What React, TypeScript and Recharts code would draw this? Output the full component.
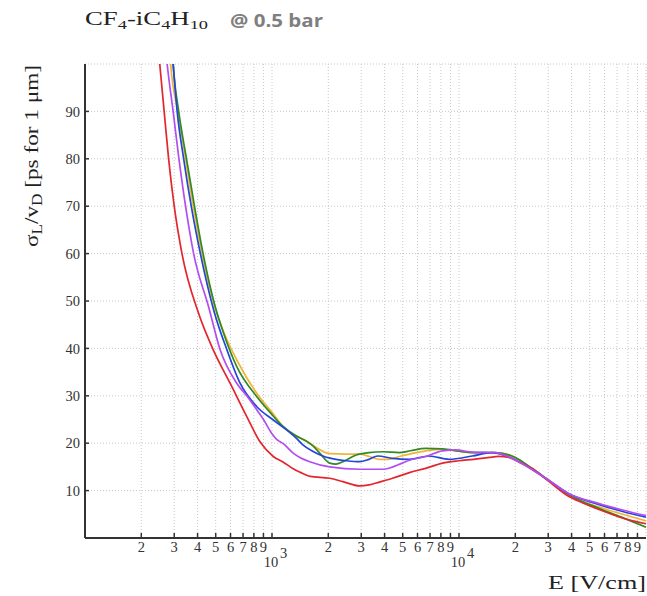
import { CartesianGrid, Line, LineChart, XAxis, YAxis } from "recharts";

const W = 647;
const H = 596;

// E [V/cm] vs sigma_L/v_D [ps for 1 um]
const red: [number, number][] = [
    [233, 112], [251, 100], [265, 90], [280, 80], [300, 70], [330, 60],
    [404, 47.5], [485, 39.7], [598, 32.6], [733, 25.6], [863, 20.3], [1016, 17.2],
    [1150, 16], [1298, 14.6], [1409, 13.9], [1600, 13], [2036, 12.6], [2395, 11.9],
    [2940, 11], [3300, 11.2], [3750, 11.8], [4410, 12.6], [5430, 13.8], [6640, 14.7],
    [8160, 15.8], [10000, 16.3], [12000, 16.6], [14500, 17], [16300, 17.2], [18500, 17],
    [21000, 16], [24500, 14.7], [30100, 12], [38500, 8.8], [46000, 7.4], [55600, 6.05],
    [70000, 4.6], [85000, 3.6], [100000, 3],
];

const purple: [number, number][] = [
    [258, 112], [275, 100], [296, 90], [318, 80], [345, 70], [381, 60], [458, 48.8],
    [528, 39.7], [649, 32.6], [750, 29.5], [830, 27], [900, 25], [1000, 22], [1059, 20.8],
    [1149, 19.9], [1298, 17.9], [1409, 17], [1592, 16.1], [2036, 15], [2940, 14.5],
    [3900, 14.5], [4980, 15.8], [5430, 16.4], [6640, 17.2], [8160, 18.4], [9600, 18.6],
    [11770, 18.1], [15650, 18], [18000, 17.3], [24500, 14.5], [30100, 12.2], [38460, 9.4],
    [55600, 7.3], [75000, 5.9], [100000, 4.7],
];

const blue: [number, number][] = [
    [280, 112], [296, 100], [311, 90], [337, 80], [370, 70], [414, 60], [490, 47.8],
    [574, 39.7], [676, 32.6], [830, 27.7], [1016, 24.9], [1197, 22.8], [1353, 21],
    [1468, 19.6], [1650, 18.3], [1900, 17.2], [2200, 16.6], [2500, 16.3], [2940, 16.1],
    [3300, 16.6], [3676, 17.3], [4410, 16.8], [5430, 16.6], [6920, 17.3], [8860, 16.6],
    [11770, 17.3], [15000, 18], [17000, 17.6], [20000, 16.5], [24500, 14.5], [30100, 12.2],
    [38460, 9.4], [55600, 7.1], [75000, 5.6], [100000, 4.4],
];

const green: [number, number][] = [
    [285, 112], [296, 100], [317, 90], [349, 80], [385, 70], [428, 60], [497, 48.8],
    [551, 43.2], [649, 36.1], [830, 29.8], [976, 26.5], [1149, 23.5], [1350, 21.5],
    [1530, 20.4], [1650, 19.5], [1800, 17.9], [2036, 15.8], [2200, 15.6], [2395, 16.1],
    [2820, 17.5], [3300, 18], [3900, 18.2], [4790, 18], [5500, 18.4], [6640, 18.9],
    [8160, 18.8], [10000, 18.3], [11770, 18], [15650, 18], [20000, 17], [24500, 14.7],
    [30100, 12.2], [38460, 9.2], [55600, 6.3], [75000, 4.3], [100000, 2.3],
];

const orange: [number, number][] = [
    [275, 112], [287, 100], [314, 90], [345, 80], [379, 70], [423, 60], [494, 48.8],
    [551, 43.5], [649, 37.5], [830, 30.5], [1000, 26.5], [1149, 23.5], [1350, 21.5],
    [1530, 20.4], [1659, 19.5], [2036, 17.8], [2490, 17.7], [2940, 17.7], [3316, 17.2],
    [3750, 16.6], [4200, 16.6], [4790, 17.2], [5430, 17.7], [6640, 18.4], [8160, 18.7],
    [11770, 18], [15650, 18], [20000, 17], [24500, 14.7], [30100, 12.2], [38460, 9],
    [55600, 6.6], [75000, 5], [100000, 3.6],
];

const xTicks = [
    200, 300, 400, 500, 600, 700, 800, 900, 1000,
    2000, 3000, 4000, 5000, 6000, 7000, 8000, 9000, 10000,
    20000, 30000, 40000, 50000, 60000, 70000, 80000, 90000,
];
const yTicks = [10, 20, 30, 40, 50, 60, 70, 80, 90];

const SERIF = "'Liberation Serif', 'DejaVu Serif', serif";
const AXIS = "#333";

const rows = (pts: [number, number][]) => pts.map(([e, v]) => ({ e, v }));

function XTick(props: any) {
    const { x, y, payload } = props;
    const val = payload.value as number;
    const exp = Math.floor(Math.log10(val) + 1e-9);
    const lead = Math.round(val / Math.pow(10, exp));
    const style = { fontFamily: SERIF, fontSize: 14.5, fill: AXIS };
    if (lead === 1) {
        return (
            <g>
                <text x={x - 1} y={y + 26} textAnchor="middle" style={style}>
                    10
                </text>
                <text x={x + 8} y={y + 17} style={style}>
                    {exp}
                </text>
            </g>
        );
    }
    return (
        <text x={x} y={y + 10.5} textAnchor="middle" style={style}>
            {lead}
        </text>
    );
}

const NoTick = () => <g />;

const series = [
    { name: "orange", pts: orange, color: "#f2b437" },
    { name: "green", pts: green, color: "#2f8a26" },
    { name: "blue", pts: blue, color: "#2446d6" },
    { name: "red", pts: red, color: "#e3262d" },
    { name: "purple", pts: purple, color: "#b34df2" },
];

export default function App() {
    return (
        <div
            style={{
                position: "absolute",
                left: 0,
                top: 0,
                width: W,
                height: H,
                overflow: "hidden",
                background: "#fff",
            }}
        >
            <LineChart
                width={W}
                height={H}
                margin={{ top: 64, right: 1, bottom: 8, left: 25 }}
            >
                <CartesianGrid
                    xAxisId="bottom"
                    yAxisId="left"
                    stroke="#c8c8c8"
                    strokeDasharray="1 2"
                />
                <XAxis
                    xAxisId="bottom"
                    dataKey="e"
                    type="number"
                    scale="log"
                    domain={[100, 100000]}
                    allowDataOverflow
                    ticks={xTicks}
                    interval={0}
                    height={50}
                    tickSize={-5}
                    tickMargin={8}
                    tick={<XTick />}
                    axisLine={{ stroke: AXIS, strokeWidth: 2 }}
                    tickLine={{ stroke: AXIS, strokeWidth: 1.5 }}
                />
                <XAxis
                    xAxisId="top"
                    orientation="top"
                    type="number"
                    scale="log"
                    domain={[100, 100000]}
                    allowDataOverflow
                    ticks={xTicks}
                    interval={0}
                    height={0}
                    tickSize={-5}
                    tick={<NoTick />}
                    axisLine={{ stroke: AXIS, strokeWidth: 2 }}
                    tickLine={{ stroke: AXIS, strokeWidth: 1.5 }}
                />
                <YAxis
                    yAxisId="left"
                    type="number"
                    domain={[0, 100]}
                    allowDataOverflow
                    ticks={yTicks}
                    interval={0}
                    width={60}
                    tickSize={-4}
                    tickMargin={9}
                    tick={{ fontFamily: SERIF, fontSize: 14.5, fill: AXIS }}
                    axisLine={{ stroke: AXIS, strokeWidth: 2 }}
                    tickLine={{ stroke: AXIS, strokeWidth: 1.5 }}
                />
                <YAxis
                    yAxisId="right"
                    orientation="right"
                    type="number"
                    domain={[0, 100]}
                    allowDataOverflow
                    ticks={yTicks}
                    interval={0}
                    width={0}
                    tickSize={-4}
                    tick={<NoTick />}
                    axisLine={{ stroke: AXIS, strokeWidth: 2 }}
                    tickLine={{ stroke: AXIS, strokeWidth: 1.5 }}
                />
                {series.map((s) => (
                    <Line
                        key={s.name}
                        xAxisId="bottom"
                        yAxisId="left"
                        data={rows(s.pts)}
                        dataKey="v"
                        type="monotone"
                        stroke={s.color}
                        strokeWidth={1.7}
                        dot={false}
                        activeDot={false}
                        isAnimationActive={false}
                    />
                ))}
            </LineChart>
            <svg
                width={W}
                height={H}
                style={{ position: "absolute", left: 0, top: 0, pointerEvents: "none" }}
            >
                <text
                    x={85}
                    y={25}
                    textLength={123}
                    lengthAdjust="spacingAndGlyphs"
                    style={{ fontFamily: SERIF, fontSize: 19, fill: "#222" }}
                >
                    CF<tspan dy={4} fontSize={13}>4</tspan>
                    <tspan dy={-4}>-iC</tspan>
                    <tspan dy={4} fontSize={13}>4</tspan>
                    <tspan dy={-4}>H</tspan>
                    <tspan dy={4} fontSize={13}>10</tspan>
                </text>
                <text
                    x={230}
                    y={27}
                    textLength={93}
                    lengthAdjust="spacingAndGlyphs"
                    style={{
                        fontFamily: "'Open Sans', sans-serif",
                        fontWeight: 700,
                        fontSize: 17,
                        fill: "#7f7f7f",
                    }}
                >
                    @ 0.5 bar
                </text>
                <text
                    transform="translate(38,156) rotate(-90)"
                    textAnchor="middle"
                    textLength={182}
                    lengthAdjust="spacingAndGlyphs"
                    style={{ fontFamily: SERIF, fontSize: 19, fill: "#222" }}
                >
                    σ<tspan dy={4} fontSize={14}>L</tspan>
                    <tspan dy={-4}>/v</tspan>
                    <tspan dy={4} fontSize={14}>D</tspan>
                    <tspan dy={-4}> [ps for 1 μm]</tspan>
                </text>
                <text
                    x={548}
                    y={589}
                    textLength={98}
                    lengthAdjust="spacingAndGlyphs"
                    style={{ fontFamily: SERIF, fontSize: 19, fill: "#222" }}
                >
                    E [V/cm]
                </text>
            </svg>
        </div>
    );
}
